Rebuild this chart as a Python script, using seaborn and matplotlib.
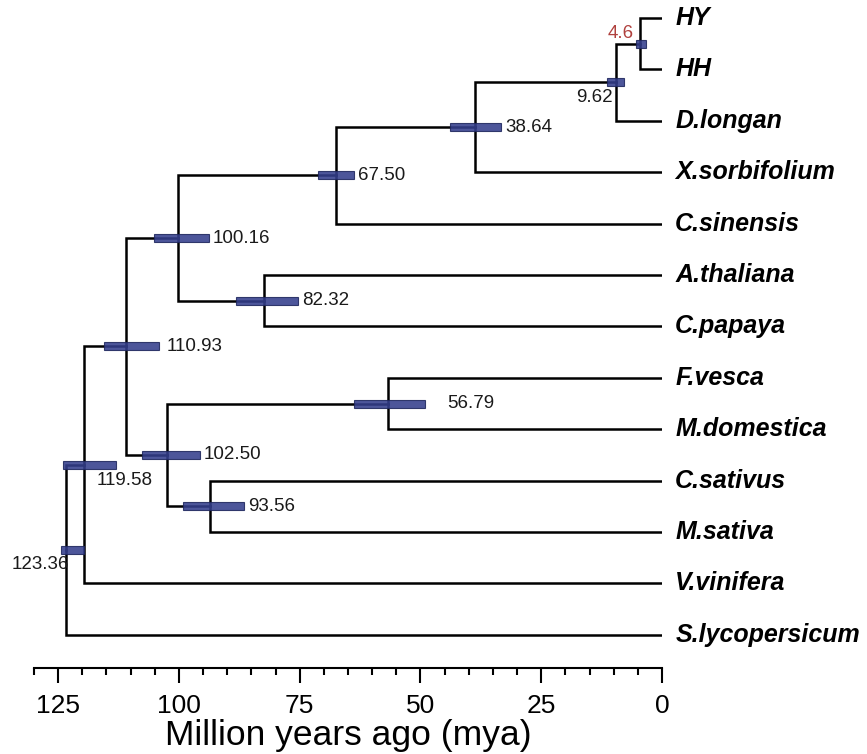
import numpy as np
import pandas as pd
import matplotlib
matplotlib.use("Agg")
import matplotlib.pyplot as plt
import seaborn as sns

# ---------------- data ----------------
tips = ["HY", "HH", "D.longan", "X.sorbifolium", "C.sinensis", "A.thaliana",
        "C.papaya", "F.vesca", "M.domestica", "C.sativus", "M.sativa",
        "V.vinifera", "S.lycopersicum"]

node_names = ["4.6", "9.62", "38.64", "67.50", "82.32", "100.16", "56.79",
              "93.56", "102.50", "110.93", "119.58", "123.36"]
node_ages = [4.6, 9.62, 38.64, 67.50, 82.32, 100.16, 56.79,
             93.56, 102.50, 110.93, 119.58, 123.36]
node_children = [("HY", "HH"), ("4.6", "D.longan"), ("9.62", "X.sorbifolium"),
                 ("38.64", "C.sinensis"), ("A.thaliana", "C.papaya"),
                 ("67.50", "82.32"), ("F.vesca", "M.domestica"),
                 ("C.sativus", "M.sativa"), ("56.79", "93.56"),
                 ("100.16", "102.50"), ("110.93", "V.vinifera"),
                 ("119.58", "S.lycopersicum")]
hpd_low = [3.3, 7.85, 33.3, 63.8, 75.4, 93.8, 49.0, 86.6, 95.7, 104.1, 113.0, 119.6]
hpd_high = [5.4, 11.36, 43.8, 71.3, 88.2, 105.2, 63.8, 99.2, 107.6, 115.5, 124.0, 124.4]

x_ticks_major = [125, 100, 75, 50, 25, 0]
x_label = "Million years ago (mya)"

# ---------------- layout of tree ----------------
age = {t: 0.0 for t in tips}
ypos = {t: float(i) for i, t in enumerate(tips)}
for n, a, (c1, c2) in zip(node_names, node_ages, node_children):
    age[n] = a
    ypos[n] = (ypos[c1] + ypos[c2]) / 2.0

rows = []
bid = 0
for n, (c1, c2) in zip(node_names, node_children):
    for c in (c1, c2):
        pts = [(age[n], ypos[n]), (age[n], ypos[c]), (age[c], ypos[c])]
        for k, (xx, yy) in enumerate(pts):
            rows.append({"branch": bid, "order": k, "x": xx, "y": yy})
        bid += 1
df = pd.DataFrame(rows)

# ---------------- plotting ----------------
sns.set_theme(style="white")
plt.rcParams["font.family"] = ["Liberation Sans", "DejaVu Sans"]
plt.rcParams["text.color"] = "black"
plt.rcParams["axes.labelcolor"] = "black"
plt.rcParams["xtick.color"] = "black"
plt.rcParams["xtick.labelcolor"] = "black"

W, H = 867, 754
fig = plt.figure(figsize=(W / 100, H / 100), dpi=100)
tip0_px, tip_step = 18.0, 51.4
axis_px = 668.0
ax = fig.add_axes([34 / W, (H - axis_px) / H, 628 / W, axis_px / H])
ax.set_xlim(130, 0)
ax.set_ylim((axis_px - tip0_px) / tip_step, -tip0_px / tip_step)

bar_h = 8 / tip_step
ax.barh([ypos[n] for n in node_names],
        [h - l for l, h in zip(hpd_low, hpd_high)],
        left=hpd_low, height=bar_h, color="#343e8c", edgecolor="#1f275e",
        linewidth=0.8, alpha=0.88, zorder=3)

sns.lineplot(data=df, x="x", y="y", units="branch", estimator=None, sort=False,
             color="black", linewidth=1.8, ax=ax, legend=False, zorder=2,
             solid_capstyle="projecting", solid_joinstyle="miter")

# tip labels
for t in tips:
    ax.annotate(t, xy=(0, ypos[t]), xytext=(9.5, 0), textcoords="offset points",
                ha="left", va="center", fontsize=18, fontweight="bold",
                fontstyle="italic", color="black", annotation_clip=False)

# node labels: (anchor, ha, va, dx px, dy px, color)
px = 0.72
place = {
    "4.6": ("node", "right", "baseline", -6, 6, "#b0413e"),
    "9.62": ("node", "right", "top", -3, -7, "#1a1a1a"),
    "119.58": ("node", "left", "center", 12, -16, "#1a1a1a"),
    "123.36": ("node", "right", "center", 3, -15, "#1a1a1a"),
    "56.79": ("bar", "left", "center", 22, 0, "#1a1a1a"),
    "110.93": ("bar", "left", "center", 8, 0, "#1a1a1a"),
}
for n, a, lo in zip(node_names, node_ages, hpd_low):
    anchor, ha, va, dx, dy, col = place.get(n, ("bar", "left", "center", 4, 0, "#1a1a1a"))
    xx = a if anchor == "node" else lo
    ax.annotate(n, xy=(xx, ypos[n]), xytext=(dx * px, dy * px),
                textcoords="offset points", ha=ha, va=va, fontsize=13.5,
                color=col, annotation_clip=False, zorder=5)

# axis styling
for s in ("left", "top", "right"):
    ax.spines[s].set_visible(False)
ax.spines["bottom"].set_linewidth(1.5)
ax.spines["bottom"].set_color("black")
ax.set_yticks([])
ax.set_xticks(x_ticks_major)
ax.set_xticklabels([str(v) for v in x_ticks_major])
ax.set_xticks([v for v in range(5, 131, 5) if v not in x_ticks_major], minor=True)
ax.tick_params(axis="x", which="major", direction="out", length=10.8, width=1.5,
               color="black", pad=8, labelsize=19, labelcolor="black", bottom=True)
ax.tick_params(axis="x", which="minor", direction="out", length=5.2, width=1.5,
               color="black", bottom=True)
ax.set_xlabel(x_label, fontsize=25.5, labelpad=1, color="black")
ax.set_ylabel("")
ax.grid(False)

fig.savefig("out.png", dpi=100)
